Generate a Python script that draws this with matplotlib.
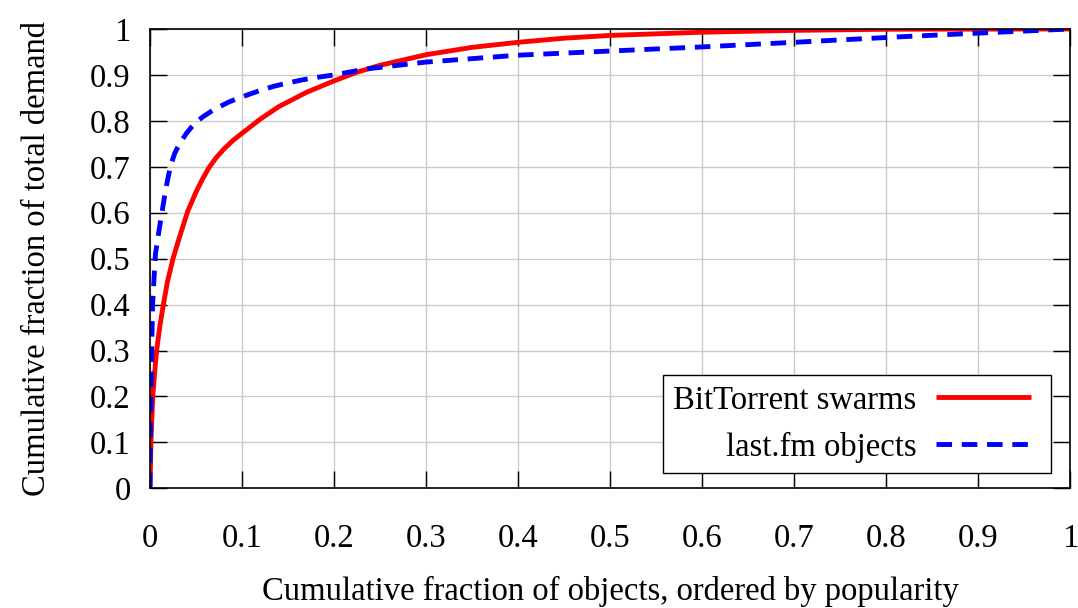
import matplotlib
matplotlib.use("Agg")
import matplotlib.pyplot as plt
from matplotlib.legend_handler import HandlerLine2D

# Cumulative demand curves (fraction of objects vs fraction of demand)
bt_x = [0.0, 0.0005, 0.001, 0.002, 0.003, 0.005, 0.0072, 0.0105, 0.0145,
        0.019, 0.025, 0.033, 0.041, 0.05, 0.057, 0.064, 0.072, 0.08, 0.09,
        0.1, 0.12, 0.14, 0.17, 0.2, 0.225, 0.25, 0.3, 0.35, 0.4, 0.45, 0.5,
        0.6, 0.7, 0.8, 1.0]
bt_y = [0.0, 0.05, 0.1, 0.15, 0.2, 0.25, 0.3, 0.35, 0.4,
        0.45, 0.5, 0.553, 0.603, 0.645, 0.673, 0.698, 0.72, 0.738, 0.757,
        0.773, 0.804, 0.831, 0.862, 0.887, 0.906, 0.921, 0.944, 0.96, 0.971, 0.98, 0.986,
        0.993, 0.997, 0.9995, 1.0]

fm_x = [0.0, 0.0003, 0.001, 0.0018, 0.0028, 0.0059, 0.0105, 0.0152, 0.0175,
        0.0203, 0.023, 0.0268, 0.03, 0.034, 0.04, 0.045, 0.051, 0.0576, 0.066,
        0.0758, 0.0857, 0.0957, 0.108, 0.121, 0.134, 0.1464, 0.165, 0.1826,
        0.2, 0.235, 0.3, 0.4, 0.5, 0.6, 0.7, 0.815, 0.9, 1.0]
fm_y = [0.0, 0.1, 0.2, 0.3, 0.4, 0.51, 0.57, 0.628, 0.655,
        0.683, 0.706, 0.729, 0.742, 0.756, 0.774, 0.786, 0.798, 0.809, 0.82,
        0.831, 0.841, 0.849, 0.858, 0.867, 0.875, 0.881, 0.889, 0.895,
        0.9, 0.913, 0.928, 0.943, 0.952, 0.961, 0.971, 0.983, 0.991, 1.0]

ticks = [0, 0.1, 0.2, 0.3, 0.4, 0.5, 0.6, 0.7, 0.8, 0.9, 1.0]
tick_labels = ["0", "0.1", "0.2", "0.3", "0.4", "0.5", "0.6", "0.7", "0.8", "0.9", "1"]

plt.rcParams["font.family"] = ["Liberation Serif", "DejaVu Serif"]
plt.rcParams["font.size"] = 23.5


class PaddedLineHandler(HandlerLine2D):
    """Line handle that leaves a little empty room on its right side."""

    def __init__(self, right_pad=0.32, **kw):
        super().__init__(**kw)
        self.right_pad = right_pad

    def create_artists(self, legend, orig_handle, xdescent, ydescent,
                       width, height, fontsize, trans):
        return super().create_artists(legend, orig_handle, xdescent, ydescent,
                                      width - self.right_pad * fontsize,
                                      height, fontsize, trans)


fig = plt.figure(figsize=(10.78, 6.08), dpi=100)
ax = fig.add_axes([150 / 1078, 1 - 488.3 / 608, 920 / 1078, 459.3 / 608])

l1, = ax.plot(bt_x, bt_y, color="#ff0000", lw=3.5, solid_capstyle="butt",
              solid_joinstyle="round", label="BitTorrent swarms")
l2, = ax.plot(fm_x, fm_y, color="#0000ff", lw=3.5, dashes=(3.2, 2.0),
              dash_joinstyle="round", label="last.fm objects")

ax.set_xlim(0, 1)
ax.set_ylim(0, 1)
ax.set_xticks(ticks)
ax.set_xticklabels(tick_labels)
ax.set_yticks(ticks)
ax.set_yticklabels(tick_labels)

ax.grid(True, color="#cccccc", lw=1.0)
ax.set_axisbelow(True)
ax.tick_params(direction="in", length=12, width=1.0, top=True, right=True,
               colors="black")
ax.tick_params(axis="x", pad=25)
ax.tick_params(axis="y", pad=14)
for s in ax.spines.values():
    s.set_linewidth(1.2)

ax.set_xlabel("Cumulative fraction of objects, ordered by popularity", labelpad=16)
ax.set_ylabel("Cumulative fraction of total demand", labelpad=27)

leg = ax.legend(loc="lower right", bbox_to_anchor=(0.9793, 0.034),
                borderaxespad=0, markerfirst=False, fancybox=False,
                edgecolor="black", framealpha=1, handlelength=3.22,
                labelspacing=0.5, borderpad=0.3, handletextpad=0.6,
                handler_map={l1: PaddedLineHandler(), l2: PaddedLineHandler()})
leg.get_frame().set_linewidth(1.0)

fig.savefig("out.png", dpi=100)
